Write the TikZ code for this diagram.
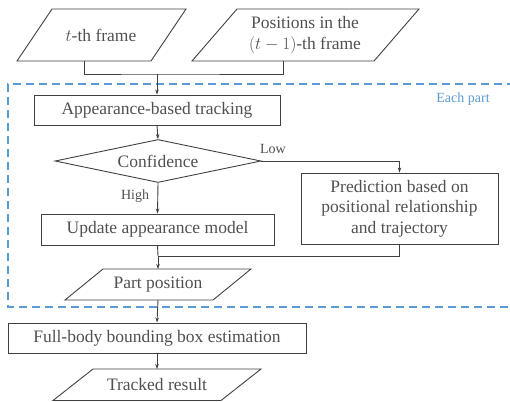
\documentclass[tikz,border=0pt]{standalone}
\usepackage{fontspec}
\setmainfont{Liberation Serif}
\usetikzlibrary{shapes.geometric}
\usetikzlibrary{arrows.meta}
\definecolor{linegray}{HTML}{404040}
\definecolor{textgray}{HTML}{505050}
\definecolor{partblue}{HTML}{5B9BD5}

\begin{document}
\begin{tikzpicture}[x=1pt, y=-1pt,
    txt/.style={text=textgray, font=\fontsize{17.5}{20.5}\selectfont, inner sep=0pt, align=center},
    box/.style={txt, draw=linegray, line width=0.9pt},
    outline/.style={draw=linegray, line width=0.9pt, line join=miter},
    flow/.style={draw=linegray, line width=0.9pt, -{Stealth[length=5pt,width=3.5pt]}},
    lbl/.style={text=textgray, font=\fontsize{14}{16}\selectfont}]
    \useasboundingbox (0,0) rectangle (510,401);
    % - Each part region
    \draw[partblue, line width=1.4pt, dash pattern=on 8pt off 5pt](515,84)--(8,84)--(8,307)--(515,307);
    \node[text=partblue, font=\fontsize{14}{16}\selectfont] (each) at (463,99){Each part};
    % - Inputs (parallelograms)
    \draw[outline](17,61)--(52,9)--(186,9)--(151,61)--cycle;
    \node[txt] (frame) at (101,35){$t$-th frame};
    \coordinate (frame-b) at (84,61);
    \draw[outline](192,61)--(237,9)--(419,9)--(374,61)--cycle;
    \node[txt] (prev) at (305,35){Positions in the\\$(t-1)$-th frame};
    \coordinate (prev-b) at (283,61);
    % - Steps
    \node[box, minimum width=246pt, minimum height=30pt] (track) at (157,110){Appearance-based tracking};
    \node[box, diamond, aspect=4.8, minimum width=206pt, minimum height=43pt] (conf) at (158,161){Confidence};
    \node[box, minimum width=233pt, minimum height=31pt] (update) at (157.5,229.5){Update appearance model};
    \node[box, minimum width=197pt, minimum height=71pt] (pred) at (399.5,208.5){Prediction based on\\positional relationship\\and trajectory};
    % - Outputs (parallelograms)
    \draw[outline](65,300)--(103,269)--(251,269)--(213,300)--cycle;
    \node[txt] (part) at (158,284.5){Part position};
    \coordinate (part-t) at (158,269);
    \coordinate (part-b) at (158,300);
    \node[box, minimum width=298pt, minimum height=30pt] (full) at (157,338){Full-body bounding box estimation};
    \draw[outline](53,400.5)--(93,369)--(261,369)--(221,400.5)--cycle;
    \node[txt] (result) at (157,385){Tracked result};
    \coordinate (result-t) at (157,369);
    % - Connectors
    \coordinate (merge) at (157,74);
    \coordinate (join) at (158,256);
    \draw[draw=linegray, line width=0.9pt](frame-b) |- (merge) -| (prev-b);
    \draw[flow](merge)--(track.north);
    \draw[flow](track.south)--(conf.north);
    \draw[flow](conf.east) -| (pred.north);
    \draw[flow](conf.south)--(update.north);
    \draw[draw=linegray, line width=0.9pt](update.south)--(join);
    \draw[draw=linegray, line width=0.9pt](pred.south) |- (join);
    \draw[flow](join)--(part-t);
    \draw[flow](part-b)--(full.north);
    \draw[flow](full.south)--(result-t);
    % - Branch labels
    \node[lbl] (low) at (273,149){Low};
    \node[lbl] (high) at (135,196){High};
\end{tikzpicture}
\end{document}
